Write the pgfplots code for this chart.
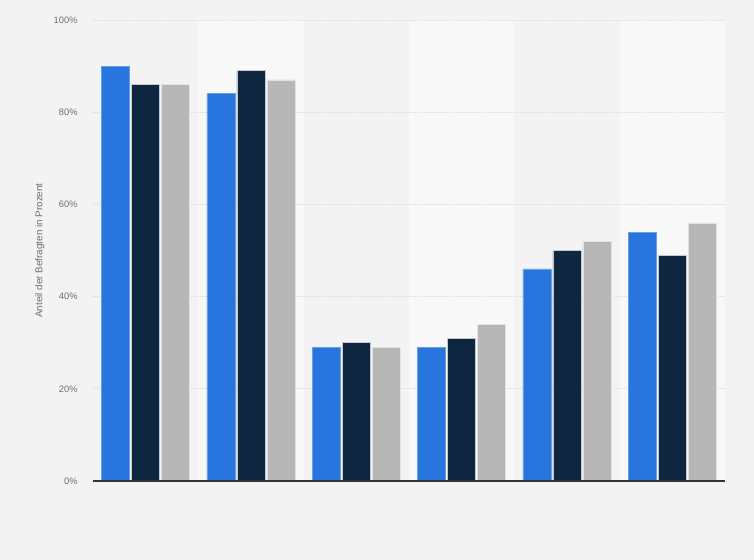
\documentclass[border=0pt]{standalone}
\usepackage{fontspec}
\setmainfont{Liberation Sans}
\usepackage{pgfplots}
\pgfplotsset{compat=1.18}
\definecolor{bgcol}{HTML}{F3F3F3}
\definecolor{bandcol}{HTML}{F8F8F8}
\definecolor{gridcol}{HTML}{D9D9D9}
\definecolor{sblue}{HTML}{2876DD}
\definecolor{snavy}{HTML}{0F2640}
\definecolor{sgray}{HTML}{B7B7B7}
\definecolor{txtcol}{HTML}{6E6E6E}

\begin{document}
\begin{tikzpicture}
\fill[bgcol] (0,0) rectangle (565.5pt,420pt);
\begin{axis}[
    at={(69.75pt,59.25pt)}, anchor=south west,
    scale only axis,
    width=474pt, height=345.75pt,
    xmin=-0.5, xmax=5.5,
    ymin=0, ymax=100,
    ybar, bar width=21pt,
    axis on top,
    xtick=\empty,
    ytick={0,20,40,60,80,100},
    yticklabels={0\%,20\%,40\%,60\%,80\%,100\%},
    ytick style={draw=none},
    axis x line*=bottom, axis y line*=left,
    y axis line style={draw=none},
    x axis line style={draw=black!80, line width=0.8pt, -},
    tick label style={font=\fontsize{7}{8}\selectfont, text=txtcol},
    yticklabel style={xshift=-8pt},
    ylabel={Anteil der Befragten in Prozent},
    ylabel style={font=\fontsize{7.4}{9}\selectfont, text=txtcol, at={(axis description cs:-0.084,0.5)}, anchor=center},
    clip=false,
]
% alternating column bands
\fill[bandcol] (axis cs:0.5,0) rectangle (axis cs:1.5,100);
\fill[bandcol] (axis cs:2.5,0) rectangle (axis cs:3.5,100);
\fill[bandcol] (axis cs:4.5,0) rectangle (axis cs:5.5,100);
% grid
\foreach \g in {20,40,60,80,100}{
  \edef\temp{\noexpand\draw[gridcol, densely dotted, line width=0.6pt] (axis cs:-0.5,\g) -- (axis cs:5.5,\g);}
  \temp
}
\addplot[fill=sblue, draw=sblue!70!white, line width=0.4pt, bar shift=-22.5pt] coordinates {
    (0,90) (1,84) (2,29) (3,29) (4,46) (5,54)
};
\addplot[fill=snavy, draw=white!75!snavy, line width=0.4pt, bar shift=0pt] coordinates {
    (0,86) (1,89) (2,30) (3,31) (4,50) (5,49)
};
\addplot[fill=sgray, draw=white!60!sgray, line width=0.4pt, bar shift=22.5pt] coordinates {
    (0,86) (1,87) (2,29) (3,34) (4,52) (5,56)
};
\end{axis}
\end{tikzpicture}
\end{document}
